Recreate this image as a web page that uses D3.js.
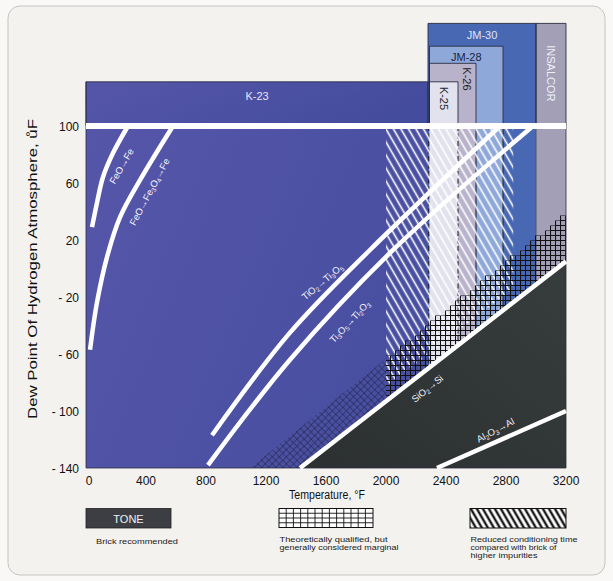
<!DOCTYPE html>
<html><head><meta charset="utf-8">
<script src="https://cdn.jsdelivr.net/npm/d3@7"></script>
<style>html,body{margin:0;padding:0;background:#f7f6f4;} svg{display:block;}</style>
</head><body>
<script>
// ---------- data ----------
const tempTicks = [0,400,800,1200,1600,2000,2400,2800,3200];
const dewTicks = [100,60,20,-20,-60,-100,-140];
const dewTickLabels = ["100","60","20","- 20","- 60","- 100","- 140"];

const gradeNames = ["K-23","JM-30","INSALCOR","JM-28","K-26","K-25"];
const gradeFrom  = [0,2280,3000,2290,2290,2290];
const gradeTo    = [2280,3000,3200,2780,2600,2480];
const gradeTop   = [131,172,172,156,144,131];

const feoFeT  = [40,73,113,180,280];
const feoFeD  = [29,46,64,81,100];
const feo3T   = [27,73,140,227,360,580];
const feo3D   = [-57,-24,8,36,62,100];
const tio2T   = [840,1360,1893,2760];
const tio2D   = [-117,-45,13,100];
const ti3o5T  = [813,1360,2047,2980];
const ti3o5D  = [-138,-64,13,100];
const sio2T   = [1427,3200];
const sio2D   = [-140,5];
const al2o3T  = [2340,3200];
const al2o3D  = [-140,-100];
const marginalT = [1093,3200];   // upper edge of "marginal" crosshatch
const marginalD = [-140,38];
const reducedT  = [2000,2850];   // "reduced conditioning time" hatch span
const reducedBottomT = [1427,3200];
const reducedBottomD = [-130,15];
const ceilingDew = 100;

const legendLabels = ["TONE","Brick recommended",
  ["Theoretically qualified, but","generally considered marginal"],
  ["Reduced conditioning time","compared with brick of","higher impurities"]];

// ---------- setup ----------
const W=613,H=581;
const FONT="'Liberation Sans', Arial, Helvetica, sans-serif";
const svg=d3.select("body").append("svg").attr("width",W).attr("height",H)
  .style("font-family",FONT);
const x=d3.scaleLinear().domain([0,3200]).range([86,566]);
const y=d3.scaleLinear().domain([-140,100]).range([468,126]);
const zip=(a,b)=>a.map((v,i)=>[v,b[i]]);
const colors={"K-23":"#4b4f9f","JM-30":"#4868b3","INSALCOR":"#a39fb7","JM-28":"#8fa8da","K-26":"#b8b3cb","K-25":"#e2e2ee"};

// page frame
svg.append("rect").attr("x",0).attr("y",0).attr("width",W).attr("height",H).attr("fill","#f9f8f6");
svg.append("rect").attr("x",8).attr("y",6).attr("width",597).attr("height",569).attr("rx",12)
  .attr("fill","#f3f2ef").attr("stroke","#c4c4c4").attr("stroke-width",1);

const defs=svg.append("defs");
const bgGrad=defs.append("linearGradient").attr("id","bg").attr("x1","0").attr("x2","1").attr("y1","0").attr("y2","0.3");
bgGrad.append("stop").attr("offset","0").attr("stop-color","#5656a9");
bgGrad.append("stop").attr("offset","1").attr("stop-color","#444c9e");
const dkGrad=defs.append("linearGradient").attr("id","dk").attr("x1","0").attr("x2","1").attr("y1","1").attr("y2","0");
dkGrad.append("stop").attr("offset","0").attr("stop-color","#2c3031");
dkGrad.append("stop").attr("offset","1").attr("stop-color","#373c3d");

function pat(id,w,h,rot,d,stroke,sw){
  const p=defs.append("pattern").attr("id",id).attr("patternUnits","userSpaceOnUse")
    .attr("width",w).attr("height",h);
  if(rot) p.attr("patternTransform",`rotate(${rot})`);
  p.append("path").attr("d",d).attr("stroke",stroke).attr("stroke-width",sw).attr("fill","none");
}
const gs=5;
pat("grid",gs,gs,0,`M0,0.5H${gs}M0.5,0V${gs}`,"#111",1.1);
pat("diamond",5,5,45,"M0,0H5M0,0V5","#15172a",0.8);
pat("hatch",6.5,6.5,-30,"M3.25,0V6.5","#ffffff",1.6);
pat("lhatch",5.2,5.2,-30,"M2.6,0V5.2","#1a1a1a",2.4);

const mt=d3.scaleLinear().domain(marginalT).range(marginalD);
const hb=d3.scaleLinear().domain(reducedBottomT).range(reducedBottomD);

// ---------- plot background & grade columns ----------
const g=svg.append("g");
g.append("rect").attr("x",x(0)).attr("y",y(ceilingDew)).attr("width",x(3200)-x(0)).attr("height",y(-140)-y(ceilingDew)).attr("fill","url(#bg)");
gradeNames.forEach((n,i)=>{
  g.append("rect").attr("x",x(gradeFrom[i])).attr("width",x(gradeTo[i])-x(gradeFrom[i]))
   .attr("y",y(gradeTop[i])).attr("height",(i===0?y(ceilingDew):y(-140))-y(gradeTop[i]))
   .attr("fill",i===0?"url(#bg)":colors[n]);
});
// borders above the ceiling line (solid)
gradeNames.forEach((n,i)=>{
  const x0=x(gradeFrom[i]),x1=x(gradeTo[i]),t=y(gradeTop[i]),b=y(ceilingDew);
  g.append("path").attr("d",`M${x0},${b}V${t}H${x1}V${b}`).attr("fill","none")
   .attr("stroke","#2a2c40").attr("stroke-width",0.9);
});
// borders inside the plot
[[2285,true],[2480,true],[2600,false],[2780,false],[3000,false]].forEach(([t,dash])=>{
  g.append("line").attr("x1",x(t)).attr("x2",x(t)).attr("y1",y(ceilingDew)).attr("y2",y(-140))
   .attr("stroke",t===3000?"#55556a":"#1a1a22").attr("stroke-width",1)
   .attr("stroke-dasharray",dash?"5,2.5":null);
});

// ---------- reduced conditioning hatch ----------
const hatchPoly=[[reducedT[0],ceilingDew],[reducedT[1],ceilingDew],[reducedT[1],hb(reducedT[1])],[reducedT[0],hb(reducedT[0])]];
defs.append("clipPath").attr("id","hclip").append("path")
  .attr("d","M"+hatchPoly.map(p=>[x(p[0]),y(p[1])].join(",")).join("L")+"Z");
g.append("rect").attr("x",x(reducedT[0])).attr("y",y(ceilingDew)).attr("width",x(reducedT[1])-x(reducedT[0]))
  .attr("height",y(-140)-y(ceilingDew)).attr("fill","url(#hatch)").attr("clip-path","url(#hclip)");

// ---------- marginal crosshatch ----------
const splitT=2000;
defs.append("clipPath").attr("id","dclip").append("path")
  .attr("d",`M${x(marginalT[0])},${y(-140)}L${x(splitT)},${y(mt(splitT))}L${x(splitT)},${y(-140)}Z`);
g.append("rect").attr("x",x(0)).attr("y",y(ceilingDew)).attr("width",x(3200)-x(0)).attr("height",y(-140)-y(ceilingDew))
  .attr("fill","url(#diamond)").attr("clip-path","url(#dclip)");
let sp=`M${x(splitT)},${y(-140)}`;
for(let px=x(splitT);px<x(3200)-0.01;){
  const nx=Math.min(x(3200),(Math.floor(px/gs+1e-6)+1)*gs);
  const yy=Math.round(y(mt(x.invert((px+nx)/2)))/gs)*gs+0.5;
  sp+=`L${px},${yy}L${nx},${yy}`;
  px=nx;
}
sp+=`L${x(3200)},${y(-140)}Z`;
defs.append("clipPath").attr("id","sclip").append("path").attr("d",sp);
g.append("rect").attr("x",x(0)).attr("y",y(ceilingDew)).attr("width",x(3200)-x(0)).attr("height",y(-140)-y(ceilingDew))
  .attr("fill","url(#grid)").attr("clip-path","url(#sclip)");

// ---------- brick recommended (dark) ----------
const dk=zip(sio2T,sio2D).concat([[3200,-140]]);
g.append("path").attr("d","M"+dk.map(p=>[x(p[0]),y(p[1])].join(",")).join("L")+"Z").attr("fill","url(#dk)");

// plot outline
g.append("path").attr("d",`M${x(0)},${y(gradeTop[0])}V${y(-140)}H${x(3200)}V${y(ceilingDew)}`)
  .attr("fill","none").attr("stroke","#2a2c40").attr("stroke-width",0.8);

// ---------- reaction lines ----------
const line=d3.line().x(d=>x(d[0])).y(d=>y(d[1])).curve(d3.curveCatmullRom);
const white=(pts,w)=>g.append("path").attr("d",line(pts)).attr("fill","none").attr("stroke","#fff").attr("stroke-width",w).attr("stroke-linecap","butt");
white(zip(feoFeT,feoFeD),4.5);
white(zip(feo3T,feo3D),4.5);
white(zip(tio2T,tio2D),4.5);
white(zip(ti3o5T,ti3o5D),4.5);
white(zip(sio2T,sio2D),4.5);
white(zip(al2o3T,al2o3D),4.5);
g.append("line").attr("x1",x(0)).attr("x2",x(3200)).attr("y1",y(ceilingDew)).attr("y2",y(ceilingDew))
  .attr("stroke","#fff").attr("stroke-width",6);

// ---------- reaction labels ----------
function chem(t,s,fs){
  const toks=s.split(/(\d+)/).filter(Boolean);
  let shifted=false;
  toks.forEach(tok=>{
    const ts=t.append("tspan").text(tok);
    if(/^\d+$/.test(tok)){ ts.attr("font-size",fs*0.68).attr("dy",shifted?0:fs*0.3); shifted=true; }
    else { if(shifted){ ts.attr("dy",-fs*0.3); shifted=false; } }
  });
}
[["FeO→Fe",233,72,-60],["FeO→Fe3O4→Fe",420,54,-62],["TiO2→Ti3O5",1573,-9,-40],
 ["Ti3O5→Ti2O3",1755,-37,-47],["SiO2→Si",2273,-84,-39],["Al2O3→Al",2727,-113,-28]]
.forEach(([s,tx,ty,rot])=>{
  const t=g.append("text").attr("transform",`translate(${x(tx)},${y(ty)}) rotate(${rot})`)
    .attr("text-anchor","middle").attr("dominant-baseline","central").attr("fill","#f4f4fa")
    .attr("font-size",9.5);
  chem(t,s,9.5);
});

// ---------- grade labels ----------
const mid=i=>x((gradeFrom[i]+gradeTo[i])/2);
g.append("text").attr("x",mid(0)).attr("y",y(gradeTop[0]-10)).attr("text-anchor","middle").attr("dominant-baseline","central")
  .attr("font-size",11).attr("fill","#e6e6f4").text(gradeNames[0]);
g.append("text").attr("x",mid(1)).attr("y",y(gradeTop[1]-8)).attr("text-anchor","middle").attr("dominant-baseline","central")
  .attr("font-size",11).attr("fill","#dfe5f6").text(gradeNames[1]);
g.append("text").attr("x",mid(3)).attr("y",y(gradeTop[3]-7.5)).attr("text-anchor","middle").attr("dominant-baseline","central")
  .attr("font-size",11).attr("fill","#1c2240").text(gradeNames[3]);
// vertical labels: INSALCOR, K-26 (in its visible strip right of K-25), K-25
[[2,mid(2),y(gradeTop[2])+50,"middle","#f0f0f6"],
 [4,x((gradeTo[5]+gradeTo[4])/2),y(gradeTop[4])+4,"start","#1e1e2a"],
 [5,mid(5),y(gradeTop[5])+5,"start","#1e1e2a"]]
.forEach(([i,xx,yy,anchor,col])=>{
  g.append("text").attr("transform",`translate(${xx},${yy}) rotate(90)`)
   .attr("text-anchor",anchor).attr("dominant-baseline","central").attr("font-size",11).attr("fill",col).text(gradeNames[i]);
});

// ---------- axes ----------
const ax=svg.append("g").attr("fill","#111").attr("font-size",12);
tempTicks.forEach(t=>ax.append("text").attr("x",x(t)+(t===0?3:0)).attr("y",481).attr("text-anchor","middle").attr("dominant-baseline","central").text(t));
dewTicks.forEach((d,i)=>ax.append("text").attr("x",79).attr("y",y(d)+1).attr("text-anchor","end").attr("dominant-baseline","central").text(dewTickLabels[i]));
ax.append("text").attr("x",327).attr("y",495).attr("text-anchor","middle").attr("dominant-baseline","central")
  .attr("font-size",12.5).attr("textLength",76).attr("lengthAdjust","spacingAndGlyphs").text("Temperature, °F");
ax.append("text").attr("transform","translate(33,269) rotate(-90)").attr("text-anchor","middle").attr("dominant-baseline","central")
  .attr("font-size",12.5).attr("textLength",300).attr("lengthAdjust","spacingAndGlyphs").text("Dew Point Of Hydrogen Atmosphere, ůF");

// ---------- legend ----------
const lg=svg.append("g");
const ltxt=(s,xx,yy,len,anchor)=>lg.append("text").attr("x",xx).attr("y",yy).attr("text-anchor",anchor||"start")
  .attr("dominant-baseline","central").attr("font-size",6.8).attr("fill","#1a1a1a")
  .attr("textLength",len).attr("lengthAdjust","spacingAndGlyphs").text(s);

lg.append("rect").attr("x",86).attr("y",508.5).attr("width",85).attr("height",19.5).attr("fill","#3c3e43").attr("stroke","#222").attr("stroke-width",0.8);
lg.append("text").attr("x",128.5).attr("y",518.5).attr("text-anchor","middle").attr("dominant-baseline","central").attr("font-size",11).attr("fill","#f2f2f2").text(legendLabels[0]);
ltxt(legendLabels[1],96,541,82);

lg.append("rect").attr("x",279).attr("y",508.5).attr("width",94).attr("height",19).attr("fill","#fff").attr("stroke","#111").attr("stroke-width",1);
d3.range(1,13).forEach(k=>lg.append("line").attr("x1",279+k*7.2).attr("x2",279+k*7.2).attr("y1",508.5).attr("y2",527.5).attr("stroke","#111").attr("stroke-width",0.9));
d3.range(1,4).forEach(k=>lg.append("line").attr("x1",279).attr("x2",373).attr("y1",508.5+k*19/4).attr("y2",508.5+k*19/4).attr("stroke","#111").attr("stroke-width",0.9));
[108,119].forEach((len,k)=>ltxt(legendLabels[2][k],279.5,539.5+k*8,len));

lg.append("rect").attr("x",470).attr("y",508.5).attr("width",96).attr("height",19.5).attr("fill","#fff");
lg.append("rect").attr("x",470).attr("y",508.5).attr("width",96).attr("height",19.5).attr("fill","url(#lhatch)").attr("stroke","#111").attr("stroke-width",1);
[107,86,67].forEach((len,k)=>ltxt(legendLabels[3][k],470.5,539.5+k*8,len));
</script>
</body></html>
